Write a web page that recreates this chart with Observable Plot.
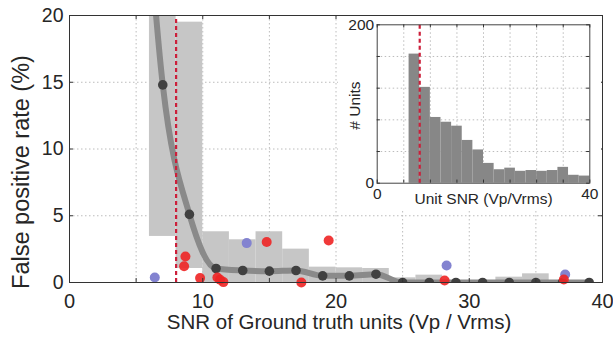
<!DOCTYPE html>
<html><head><meta charset="utf-8">
<script src="https://cdn.jsdelivr.net/npm/d3@7"></script>
<script src="https://cdn.jsdelivr.net/npm/@observablehq/plot@0.6"></script>
<style>
html,body{margin:0;padding:0;background:#fff;}
#wrap{position:relative;width:613px;height:339px;}
#inset{position:absolute;left:338px;top:16px;}
</style></head><body>
<div id="wrap"><div id="main"></div><div id="inset"></div></div>
<script>
// ---- main chart data ----
const binCenter = [5, 7, 9, 11, 13, 15, 17, 19, 21, 23, 25, 27, 29, 31, 33, 35, 37, 39];
const fpRate    = [40, 14.8, 5.1, 1.05, 0.9, 0.85, 0.9, 0.5, 0.5, 0.62, 0, 0, 0, 0, 0, 0, 0, 0];
const bandX1 = [6, 8, 10, 12, 14, 16, 18, 20, 22, 24, 26, 32, 34];
const bandX2 = [8, 10, 12, 14, 16, 18, 20, 22, 24, 26, 28, 34, 36];
const bandLo = [3.45, 1.05, 0, 0, 0, 0, 0, 0, 0, 0, 0, 0, 0];
const bandHi = [30, 19.5, 3.8, 3.2, 3.8, 2.5, 1.15, 1.1, 1.05, 0.35, 0.55, 0.4, 0.65];
const blueX = [6.4, 13.3, 28.3, 37.2];
const blueY = [0.38, 2.95, 1.27, 0.6];
const redX = [8.7, 8.6, 9.8, 11.1, 11.3, 11.55, 14.8, 17.4, 19.45, 28.15, 37.1];
const redY = [1.95, 1.22, 0.33, 0.38, 0.2, 0.03, 3.03, 0, 3.15, 0.15, 0.22];
const threshold = 8;
const xTickLabels = [0, 10, 20, 30, 40];
const yTickLabels = [0, 5, 10, 15, 20];
const xMinor = [0, 5, 10, 15, 20, 25, 30, 35, 40];
const yMinor = [0, 5, 10, 15, 20];
const xGrid = [5, 10, 15, 20, 25, 30, 35];
const yGrid = [5, 10, 15];
const xLabel = "SNR of Ground truth units (Vp / Vrms)";
const yLabel = "False positive rate (%)";

// ---- inset data ----
const histX1 = [6, 8, 10, 12, 14, 16, 18, 20, 22, 24, 26, 28, 30, 32, 34, 36, 38];
const histX2 = [8, 10, 12, 14, 16, 18, 20, 22, 24, 26, 28, 30, 32, 34, 36, 38, 40];
const histCount = [163, 121, 83, 77, 72, 54, 42, 25, 17, 19, 15, 16, 15, 16, 20, 10, 9];
const insetXTicks = [0, 40];
const insetYTicks = [0, 200];
const insetXMinor = [0, 5, 10, 15, 20, 25, 30, 35, 40];
const insetYMinor = [0, 40, 80, 120, 160, 200];
const insetXGrid = [5, 10, 15, 20, 25, 30, 35];
const insetYGrid = [40, 80, 120, 160];
const insetXLabel = "Unit SNR (Vp/Vrms)";
const insetYLabel = "# Units";

const FONT = "'Liberation Sans', Arial, sans-serif";
const INK = "#333";
const gridStyle = {stroke: "#bcbcbc", strokeWidth: 1, strokeDasharray: "1.5,2.5"};

const line = binCenter.map((x, i) => ({x, y: fpRate[i]}));
const bands = bandX1.map((x1, i) => ({x1, x2: bandX2[i], lo: bandLo[i], hi: bandHi[i]}));
const blue = blueX.map((x, i) => ({x, y: blueY[i]}));
const red = redX.map((x, i) => ({x, y: redY[i]}));
const hist = histX1.map((x1, i) => ({x1, x2: histX2[i], n: histCount[i]}));

const main = Plot.plot({
  width: 613, height: 339,
  marginLeft: 69, marginRight: 11, marginTop: 15, marginBottom: 57,
  x: {domain: [0, 40]},
  y: {domain: [0, 20]},
  style: {fontFamily: FONT, color: "#262626", background: "transparent"},
  marks: [
    Plot.ruleX(xGrid, {x: d => d, ...gridStyle}),
    Plot.ruleY(yGrid, {y: d => d, ...gridStyle}),
    Plot.rect(bands, {x1: "x1", x2: "x2", y1: "lo", y2: "hi", fill: "#c6c6c6", inset: 0, clip: true}),
    Plot.line(line, {x: "x", y: "y", stroke: "#8a8a8a", strokeWidth: 6, curve: "monotone-x", clip: true}),
    Plot.dot(line, {x: "x", y: "y", r: 4.8, fill: "#404040", clip: true}),
    Plot.ruleX([threshold], {x: d => d, y1: 0, y2: 20, stroke: "#cc1f3a", strokeWidth: 2.2, strokeDasharray: "4,3"}),
    Plot.dot(blue, {x: "x", y: "y", r: 5, fill: "#8383d0"}),
    Plot.dot(red, {x: "x", y: "y", r: 5, fill: "#ee2424", fillOpacity: 0.9}),
    Plot.frame({stroke: INK}),
    Plot.ruleX(xMinor, {x: d => d, y1: 0, y2: 0.3, stroke: INK}),
    Plot.ruleX(xMinor, {x: d => d, y1: 19.7, y2: 20, stroke: INK}),
    Plot.ruleY(yMinor, {y: d => d, x1: 0, x2: 0.3, stroke: INK}),
    Plot.ruleY(yMinor, {y: d => d, x1: 39.7, x2: 40, stroke: INK}),
    Plot.axisX(xTickLabels, {tickSize: 0, tickPadding: 11, fontSize: 20, label: null}),
    Plot.axisY(yTickLabels, {tickSize: 0, tickPadding: 6, fontSize: 19.5, label: null}),
    Plot.text([xLabel], {text: d => d, frameAnchor: "bottom", textAnchor: "middle", dy: 46, dx: 3, fontSize: 20.5}),
    Plot.text([yLabel], {text: d => d, frameAnchor: "left", textAnchor: "middle", rotate: -90, dx: -48, dy: 23, fontSize: 23.5})
  ]
});
document.getElementById("main").appendChild(main);

const inset = Plot.plot({
  width: 263, height: 194,
  marginLeft: 38.7, marginRight: 11.7, marginTop: 8.3, marginBottom: 27.3,
  x: {domain: [0, 40]},
  y: {domain: [0, 200]},
  style: {fontFamily: FONT, color: "#262626", background: "#fff"},
  marks: [
    Plot.ruleX(insetXGrid, {x: d => d, ...gridStyle}),
    Plot.ruleY(insetYGrid, {y: d => d, ...gridStyle}),
    Plot.rect(hist, {x1: "x1", x2: "x2", y1: 0, y2: "n", fill: "#878787", inset: 0}),
    Plot.ruleX([threshold], {x: d => d, y1: 0, y2: 200, stroke: "#cc1f3a", strokeWidth: 2.2, strokeDasharray: "4,3"}),
    Plot.frame({stroke: "#444"}),
    Plot.ruleX(insetXMinor, {x: d => d, y1: 0, y2: 4, stroke: INK}),
    Plot.ruleX(insetXMinor, {x: d => d, y1: 196, y2: 200, stroke: INK}),
    Plot.ruleY(insetYMinor, {y: d => d, x1: 0, x2: 0.6, stroke: INK}),
    Plot.ruleY(insetYMinor, {y: d => d, x1: 39.4, x2: 40, stroke: INK}),
    Plot.axisX(insetXTicks, {tickSize: 0, tickPadding: 5, fontSize: 15.5, label: null}),
    Plot.axisY(insetYTicks, {tickSize: 0, tickPadding: 3, fontSize: 15.5, label: null}),
    Plot.text([insetXLabel], {text: d => d, frameAnchor: "bottom", textAnchor: "middle", dy: 21, fontSize: 15.5}),
    Plot.text([insetYLabel], {text: d => d, frameAnchor: "left", textAnchor: "middle", rotate: -90, dx: -22, dy: 1.5, fontSize: 15.5})
  ]
});
document.getElementById("inset").appendChild(inset);
</script>
</body></html>
